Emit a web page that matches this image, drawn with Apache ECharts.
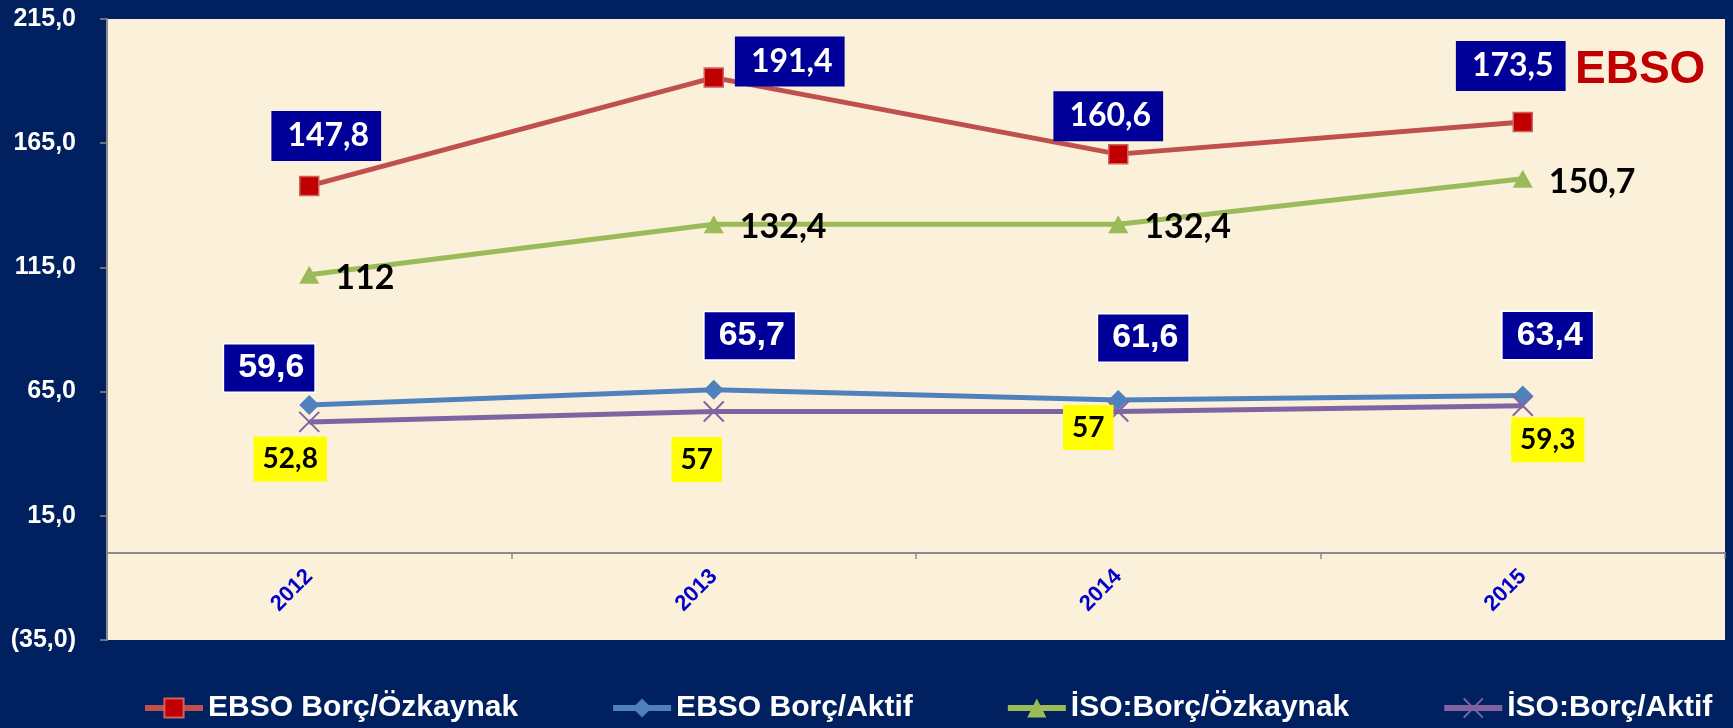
<!DOCTYPE html>
<html>
<head>
<meta charset="utf-8">
<script src="https://cdn.jsdelivr.net/npm/echarts@6/dist/echarts.min.js"></script>
<style>
	html, body { margin: 0; padding: 0; background: #002060; }
	#chart { width: 1733px; height: 728px; }
</style>
</head>
<body>
<div id="chart"></div>
<script>
	// chart data
	var years = ['2012', '2013', '2014', '2015'];
	var seriesNames = ['EBSO Borç/Özkaynak', 'EBSO Borç/Aktif', 'İSO:Borç/Özkaynak', 'İSO:Borç/Aktif'];
	var ebsoBorcOzkaynak = [147.8, 191.4, 160.6, 173.5];
	var ebsoBorcAktif = [59.6, 65.7, 61.6, 63.4];
	var isoBorcOzkaynak = [112, 132.4, 132.4, 150.7];
	var isoBorcAktif = [52.8, 57, 57, 59.3];
	var yAxisMin = -35;
	var yAxisMax = 215;
	var yAxisStep = 50;

	// where the value boxes sit relative to their point (layout only)
	var ebsoOzkLabelOffsets = [[17, -50], [76, -16], [-10, -38], [-12, -56]];
	var ebsoAktifLabelOffsets = [[-40, -37], [36, -54], [25, -62], [25, -60]];
	var isoAktifLabelOffsets = [[-19, 37], [-17, 48], [-30, 16], [25, 34]];

	var ChartPage = function () {
		this.chart = null;
		this.gridTop = 19;
		this.gridBottom = 88;
		this.height = 728;
		this.draw();
	};

	ChartPage.prototype = {

		formatValue: function (pValue) {
			return String(pValue).replace('.', ',');
		},

		formatAxisValue: function (pValue) {
			let text = Math.abs(pValue).toFixed(1).replace('.', ',');
			return pValue < 0 ? '(' + text + ')' : text;
		},

		/** pairs each value with its own label offset */
		buildData: function (pValues, pOffsets) {
			return pValues.map(function (v, i) {
				return pOffsets ? { value: v, label: { offset: pOffsets[i] } } : v;
			});
		},

		/** the category axis sits on the zero line, moved up from the grid bottom */
		getZeroOffset: function () {
			const plotHeight = this.height - this.gridTop - this.gridBottom;
			return -Math.round((0 - yAxisMin) / (yAxisMax - yAxisMin) * plotHeight);
		},

		draw: function () {
			const self = this;
			const calibriLike = 'Lato, "Open Sans", sans-serif';
			const arial = '"Liberation Sans", Arial, sans-serif';
			const formatter = function (p) { return self.formatValue(p.value); };
			let option = {
				backgroundColor: '#002060',
				animation: false,
				grid: { left: 107, right: 8, top: this.gridTop, bottom: this.gridBottom, show: true, backgroundColor: '#FBF0DA', borderWidth: 0 },
				legend: {
					left: 137, top: 686, width: 1590, itemGap: 92, itemWidth: 58, itemHeight: 24,
					lineStyle: { width: 6 },
					textStyle: { color: '#FFFFFF', fontWeight: 'bold', fontSize: 30, fontFamily: arial, lineHeight: 34 },
					data: seriesNames
				},
				graphic: [{
					type: 'text', left: 1575, top: 47,
					style: { text: 'EBSO', fill: '#C00000', font: 'bold 46px "Liberation Sans", Arial, sans-serif' }
				}],
				xAxis: {
					type: 'category', data: years,
					offset: this.getZeroOffset(),
					axisLine: { onZero: false, lineStyle: { color: '#8C8C8C', width: 2 } },
					axisTick: { show: true, length: 6, lineStyle: { color: '#8C8C8C', width: 1.5 } },
					axisLabel: { rotate: 45, margin: 20, color: '#0000CC', fontWeight: 'bold', fontSize: 22, fontFamily: arial },
					splitLine: { show: false }
				},
				yAxis: {
					type: 'value', min: yAxisMin, max: yAxisMax, interval: yAxisStep,
					axisLine: { show: true, lineStyle: { color: '#8C8C8C', width: 2 } },
					axisTick: { show: true, length: 7, lineStyle: { color: '#8C8C8C', width: 1.5 } },
					axisLabel: { margin: 31, color: '#FFFFFF', fontWeight: 'bold', fontSize: 25, fontFamily: arial, formatter: this.formatAxisValue },
					splitLine: { show: false }
				},
				series: [
					{
						name: seriesNames[0], type: 'line', z: 3,
						data: this.buildData(ebsoBorcOzkaynak, ebsoOzkLabelOffsets),
						symbol: 'rect', symbolSize: 19,
						lineStyle: { color: '#C0504D', width: 5 },
						itemStyle: { color: '#C00000', borderColor: '#D0605D', borderWidth: 1.5 },
						label: {
							show: true, position: 'inside', formatter: formatter,
							color: '#FFFFFF', fontWeight: 'bold', fontSize: 32, fontFamily: calibriLike,
							backgroundColor: '#000099', padding: [9, 12, 9, 16]
						}
					},
					{
						name: seriesNames[1], type: 'line', z: 3,
						data: this.buildData(ebsoBorcAktif, ebsoAktifLabelOffsets),
						symbol: 'diamond', symbolSize: 20,
						lineStyle: { color: '#4F81BD', width: 5 },
						itemStyle: { color: '#4F81BD' },
						label: {
							show: true, position: 'inside', formatter: formatter,
							color: '#FFFFFF', fontWeight: 'bold', fontSize: 34, fontFamily: arial,
							backgroundColor: '#000099', borderColor: '#FFFFFF', borderWidth: 1.5, padding: [7, 10, 6, 14]
						}
					},
					{
						name: seriesNames[2], type: 'line', z: 3,
						data: this.buildData(isoBorcOzkaynak),
						symbol: 'triangle', symbolSize: [20, 18],
						lineStyle: { color: '#9BBB59', width: 5 },
						itemStyle: { color: '#9BBB59' },
						label: {
							show: true, position: 'right', distance: 16, offset: [0, 3], formatter: formatter,
							color: '#000000', fontWeight: 'bold', fontSize: 34, fontFamily: calibriLike
						}
					},
					{
						name: seriesNames[3], type: 'line', z: 3,
						data: this.buildData(isoBorcAktif, isoAktifLabelOffsets),
						symbol: 'path://M0,0L20,20M20,0L0,20', symbolSize: 20,
						lineStyle: { color: '#8064A2', width: 5 },
						itemStyle: { color: '#8064A2', borderColor: '#8064A2', borderWidth: 2 },
						label: {
							show: true, position: 'inside', formatter: formatter,
							color: '#000000', fontWeight: 'bold', fontSize: 28, fontFamily: calibriLike,
							backgroundColor: '#FFFF00', padding: [9, 9, 8, 9]
						}
					}
				]
			};
			this.chart = echarts.init(document.getElementById('chart'));
			this.chart.setOption(option);
		}
	};

	new ChartPage();
</script>
</body>
</html>
